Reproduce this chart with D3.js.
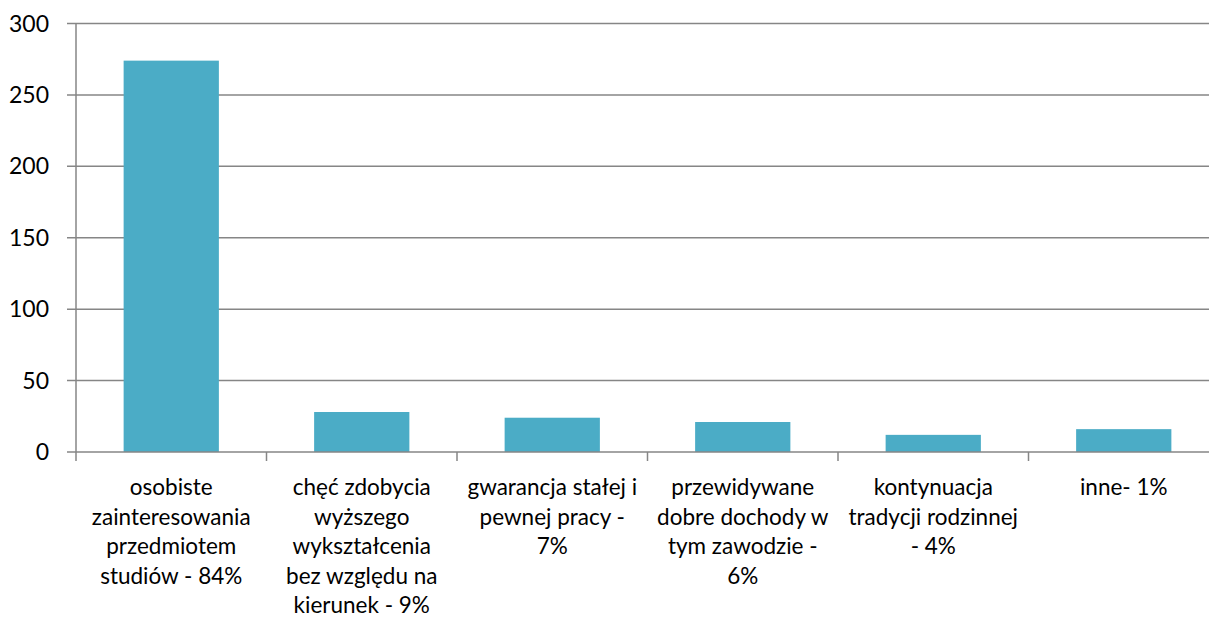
<!DOCTYPE html>
<html>
  <head>
    <meta charset="utf-8">
  </head>
  <style>
    body { margin: 0; background: #fff; }
    text { font-family: Lato, "Open Sans", sans-serif; fill: #000; }
  </style>
  <body>
    <div id="chart"></div>
  </body>
  <script src="https://d3js.org/d3.v7.min.js"></script>
  <script>
    // Category labels (already broken into lines as in the picture)
    var categoryLines = [
      ['osobiste', 'zainteresowania', 'przedmiotem', 'studiów - 84%'],
      ['chęć zdobycia', 'wyższego', 'wykształcenia', 'bez względu na', 'kierunek - 9%'],
      ['gwarancja stałej i', 'pewnej pracy -', '7%'],
      ['przewidywane', 'dobre dochody w', 'tym zawodzie -', '6%'],
      ['kontynuacja', 'tradycji rodzinnej', '- 4%'],
      ['inne- 1%']
    ];
    var values = [274, 28, 24, 21, 12, 16];
    var yTicks = [0, 50, 100, 150, 200, 250, 300];

    var WIDTH = 1209, HEIGHT = 627;
    var LEFT = 76, RIGHT = 1219, TOP = 23.5, BOTTOM = 452;
    var AXIS_COLOR = '#868686';
    var BAR_COLOR = '#4BACC6';

    var svg = d3.select('#chart').append('svg')
      .attr('width', WIDTH)
      .attr('height', HEIGHT);

    var idx = values.map(function (d, i) { return i; });
    var x = d3.scaleBand().domain(idx).range([LEFT, RIGHT]).paddingInner(0.5).paddingOuter(0.25);
    var xCat = d3.scaleBand().domain(idx).range([LEFT, RIGHT]);
    var y = d3.scaleLinear().domain([0, 300]).range([BOTTOM, TOP]);

    // Gridlines with the left tick
    svg.append('g')
      .selectAll('line')
      .data(yTicks.slice(1))
      .join('line')
      .attr('x1', LEFT - 9)
      .attr('x2', RIGHT)
      .attr('y1', function (d) { return y(d); })
      .attr('y2', function (d) { return y(d); })
      .attr('stroke', AXIS_COLOR)
      .attr('stroke-width', 1.5);

    // Y axis labels
    svg.append('g')
      .selectAll('text')
      .data(yTicks)
      .join('text')
      .attr('x', 49)
      .attr('y', function (d) { return y(d); })
      .attr('dy', '0.35em')
      .attr('text-anchor', 'end')
      .style('font-size', '23px')
      .text(function (d) { return d; });

    // Bars
    svg.append('g')
      .selectAll('rect')
      .data(values)
      .join('rect')
      .attr('x', function (d, i) { return x(i); })
      .attr('width', x.bandwidth())
      .attr('y', function (d) { return y(d); })
      .attr('height', function (d) { return y(0) - y(d); })
      .attr('fill', BAR_COLOR);

    // X axis line and category ticks
    svg.append('line')
      .attr('x1', LEFT - 9).attr('x2', RIGHT)
      .attr('y1', y(0)).attr('y2', y(0))
      .attr('stroke', AXIS_COLOR).attr('stroke-width', 1.5);

    svg.append('line')
      .attr('x1', LEFT).attr('x2', LEFT)
      .attr('y1', TOP).attr('y2', y(0) + 9)
      .attr('stroke', AXIS_COLOR).attr('stroke-width', 1.5);

    svg.append('g')
      .selectAll('line')
      .data(idx.slice(1).concat([idx.length]))
      .join('line')
      .attr('x1', function (d) { return LEFT + d * xCat.step(); })
      .attr('x2', function (d) { return LEFT + d * xCat.step(); })
      .attr('y1', y(0))
      .attr('y2', y(0) + 9)
      .attr('stroke', AXIS_COLOR).attr('stroke-width', 1.5);

    // Category labels
    var labels = svg.append('g')
      .selectAll('text')
      .data(categoryLines)
      .join('text')
      .attr('text-anchor', 'middle')
      .style('font-size', '22.5px')
      .attr('transform', function (d, i) {
        return 'translate(' + (xCat(i) + xCat.bandwidth() / 2) + ',495)';
      });

    labels.selectAll('tspan')
      .data(function (d) { return d; })
      .join('tspan')
      .attr('x', 0)
      .attr('y', function (d, j) { return j * 29.5; })
      .text(function (d) { return d; });
  </script>
</html>
